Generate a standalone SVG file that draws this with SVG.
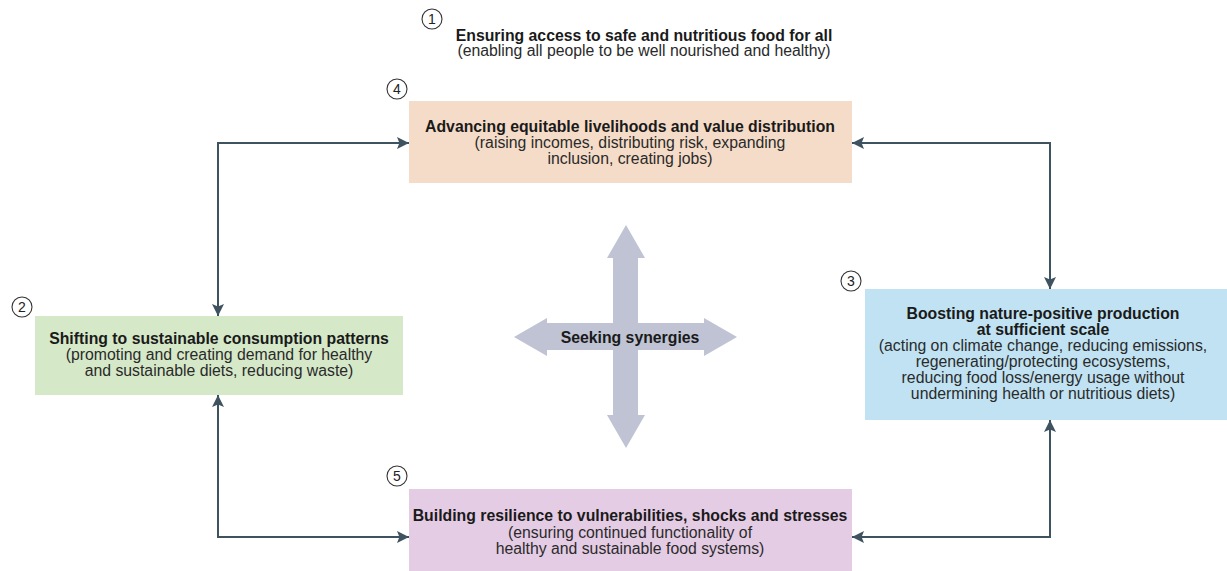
<svg xmlns="http://www.w3.org/2000/svg" width="1227" height="571" viewBox="0 0 1227 571">
<defs>
<style>
text{font-family:"Liberation Sans",Arial,sans-serif;fill:#1a1a1a;}
.t{font-size:15.8px;font-weight:bold;text-anchor:middle;}
.s{font-size:15.8px;text-anchor:middle;fill:#2a2a2a;}
.num{font-size:14px;text-anchor:middle;fill:#222;}
.circ{fill:#fff;stroke:#333;stroke-width:1.1;}
.con{fill:none;stroke:#3e5260;stroke-width:2;}
</style>
<marker id="ah" viewBox="0 0 10 10" refX="10" refY="5" markerWidth="6" markerHeight="6" orient="auto-start-reverse" markerUnits="strokeWidth">
<path d="M0,0 L10,5 L0,10 L2,5 Z" fill="#3e5260"/>
</marker>
</defs>
<rect width="1227" height="571" fill="#fff"/>

<g id="connectors">
<polyline class="con" points="409,143 218,143 218,316" marker-start="url(#ah)" marker-end="url(#ah)"/>
<polyline class="con" points="852,143 1050,143 1050,289" marker-start="url(#ah)" marker-end="url(#ah)"/>
<polyline class="con" points="218,395 218,537 409,537" marker-start="url(#ah)" marker-end="url(#ah)"/>
<polyline class="con" points="1050,420 1050,537 852,537" marker-start="url(#ah)" marker-end="url(#ah)"/>
</g>

<g id="synergies">
<polygon fill="#bfc3d3" points="626,225 645,258 638,258 638,415 645,415 626,448 607,415 613,415 613,258 607,258"/>
<polygon fill="#bfc3d3" points="514,337 547,318 547,323 704,323 704,318 737,337 704,356 704,350 547,350 547,356"/>
<text class="t" x="630" y="343">Seeking synergies</text>
</g>

<g id="node1">
<circle class="circ" cx="432" cy="19" r="10"/>
<text class="num" x="432" y="24">1</text>
<text class="t" x="644" y="41">Ensuring access to safe and nutritious food for all</text>
<text class="s" x="644" y="56">(enabling all people to be well nourished and healthy)</text>
</g>

<g id="node4">
<rect x="409" y="101" width="443" height="82" fill="#f5dcc8"/>
<circle class="circ" cx="397" cy="89" r="10"/>
<text class="num" x="397" y="94">4</text>
<text class="t" x="630" y="132">Advancing equitable livelihoods and value distribution</text>
<text class="s" x="630" y="148">(raising incomes, distributing risk, expanding</text>
<text class="s" x="630" y="164">inclusion, creating jobs)</text>
</g>

<g id="node2">
<rect x="35" y="316" width="368" height="79" fill="#d5e8c8"/>
<circle class="circ" cx="22" cy="307" r="10"/>
<text class="num" x="22" y="312">2</text>
<text class="t" x="219" y="344">Shifting to sustainable consumption patterns</text>
<text class="s" x="219" y="360">(promoting and creating demand for healthy</text>
<text class="s" x="219" y="376">and sustainable diets, reducing waste)</text>
</g>

<g id="node3">
<rect x="865" y="289" width="362" height="131" fill="#c0e2f2"/>
<circle class="circ" cx="851" cy="281" r="10"/>
<text class="num" x="851" y="286">3</text>
<text class="t" x="1043" y="319">Boosting nature-positive production</text>
<text class="t" x="1043" y="335">at sufficient scale</text>
<text class="s" x="1043" y="351">(acting on climate change, reducing emissions,</text>
<text class="s" x="1043" y="367">regenerating/protecting ecosystems,</text>
<text class="s" x="1043" y="383">reducing food loss/energy usage without</text>
<text class="s" x="1043" y="399">undermining health or nutritious diets)</text>
</g>

<g id="node5">
<rect x="409" y="489" width="443" height="82" fill="#e5cce5"/>
<circle class="circ" cx="397" cy="476" r="10"/>
<text class="num" x="397" y="481">5</text>
<text class="t" x="630" y="521">Building resilience to vulnerabilities, shocks and stresses</text>
<text class="s" x="630" y="538">(ensuring continued functionality of</text>
<text class="s" x="630" y="554">healthy and sustainable food systems)</text>
</g>
</svg>
